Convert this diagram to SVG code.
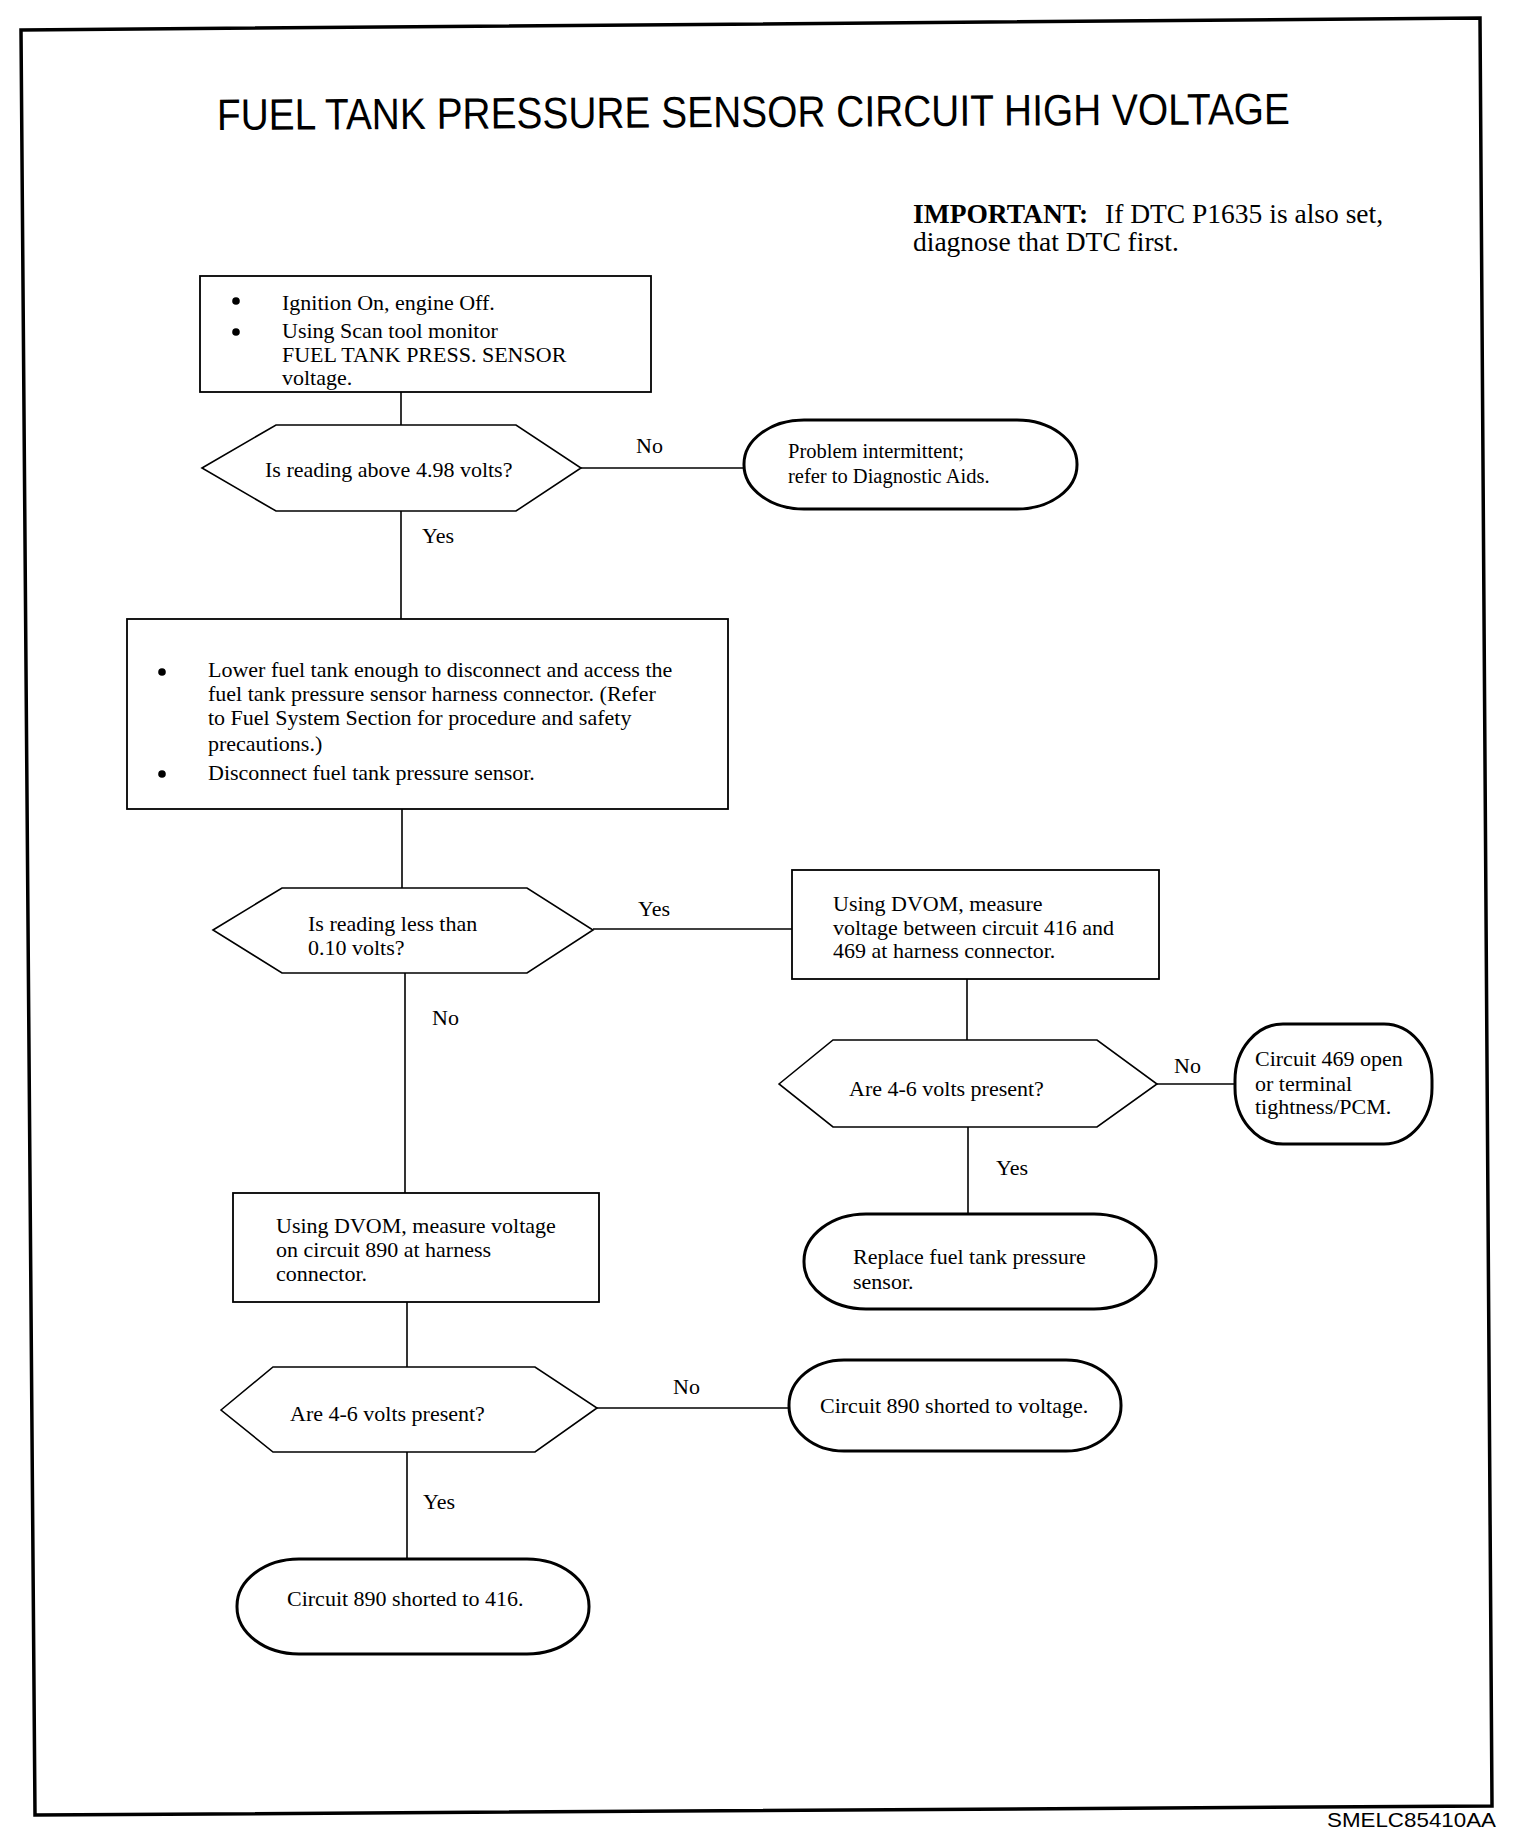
<svg xmlns="http://www.w3.org/2000/svg" width="1536" height="1840" viewBox="0 0 1536 1840">
<style>
.t{font-family:"Liberation Serif","Times New Roman",serif;font-size:22px;fill:#000}
.s{font-family:"Liberation Sans",Arial,sans-serif;fill:#000}
.box{fill:none;stroke:#000;stroke-width:1.8}
.hex{fill:none;stroke:#000;stroke-width:1.6}
.ov{fill:none;stroke:#000;stroke-width:3}
.ln{stroke:#000;stroke-width:1.6;fill:none}
.b{fill:#000}
</style>
<rect width="1536" height="1840" fill="#fff"/>
<polygon id="frame" points="21,30 1480,18 1492,1806 35,1815" fill="none" stroke="#000" stroke-width="3.5"/>
<text class="s" x="217" y="130" font-size="44" textLength="1073" lengthAdjust="spacingAndGlyphs" transform="rotate(-0.32 217 130)">FUEL TANK PRESSURE SENSOR CIRCUIT HIGH VOLTAGE</text>
<g id="important">
<text class="t" style="font-size:27.5px" x="913" y="223"><tspan font-weight="bold">IMPORTANT:</tspan><tspan x="1105">If DTC P1635 is also set,</tspan></text>
<text class="t" style="font-size:27.5px" x="913" y="251">diagnose that DTC first.</text>
</g>
<g id="connectors">
<line class="ln" x1="401" y1="392" x2="401" y2="425"/>
<line class="ln" x1="581" y1="468" x2="744" y2="468"/>
<line class="ln" x1="401" y1="511" x2="401" y2="619"/>
<line class="ln" x1="402" y1="809" x2="402" y2="888"/>
<line class="ln" x1="593" y1="929" x2="792" y2="929"/>
<line class="ln" x1="967" y1="979" x2="967" y2="1040"/>
<line class="ln" x1="1157" y1="1084" x2="1235" y2="1084"/>
<line class="ln" x1="968" y1="1127" x2="968" y2="1214"/>
<line class="ln" x1="405" y1="973" x2="405" y2="1193"/>
<line class="ln" x1="407" y1="1302" x2="407" y2="1367"/>
<line class="ln" x1="597" y1="1408" x2="789" y2="1408"/>
<line class="ln" x1="407" y1="1452" x2="407" y2="1560"/>
<text class="t" x="636" y="453">No</text>
<text class="t" x="422" y="543">Yes</text>
<text class="t" x="638" y="916">Yes</text>
<text class="t" x="432" y="1025">No</text>
<text class="t" x="1174" y="1073">No</text>
<text class="t" x="996" y="1175">Yes</text>
<text class="t" x="673" y="1394">No</text>
<text class="t" x="423" y="1509">Yes</text>
</g>
<g id="step1">
<rect class="box" x="200" y="276" width="451" height="116"/>
<circle class="b" cx="236" cy="301" r="3.8"/>
<circle class="b" cx="236" cy="332" r="3.8"/>
<text class="t" x="282" y="310">Ignition On, engine Off.</text>
<text class="t" x="282" y="338">Using Scan tool monitor</text>
<text class="t" x="282" y="362">FUEL TANK PRESS. SENSOR</text>
<text class="t" x="282" y="385">voltage.</text>
</g>
<g id="q1">
<polygon class="hex" points="202,468 276,425 516,425 581,468 516,511 276,511"/>
<text class="t" x="265" y="477">Is reading above 4.98 volts?</text>
</g>
<g id="end1">
<rect class="ov" x="744" y="420" width="333" height="89" rx="60" ry="44"/>
<text class="t" style="font-size:20.5px" x="788" y="458">Problem intermittent;</text>
<text class="t" style="font-size:20.5px" x="788" y="483">refer to Diagnostic Aids.</text>
</g>
<g id="step2">
<rect class="box" x="127" y="619" width="601" height="190"/>
<circle class="b" cx="162" cy="672" r="3.8"/>
<circle class="b" cx="162" cy="774" r="3.8"/>
<text class="t" x="208" y="677">Lower fuel tank enough to disconnect and access the</text>
<text class="t" x="208" y="701">fuel tank pressure sensor harness connector. (Refer</text>
<text class="t" x="208" y="725">to Fuel System Section for procedure and safety</text>
<text class="t" x="208" y="751">precautions.)</text>
<text class="t" x="208" y="780">Disconnect fuel tank pressure sensor.</text>
</g>
<g id="q2">
<polygon class="hex" points="213,930 282,888 527,888 593,930 527,973 282,973"/>
<text class="t" x="308" y="931">Is reading less than</text>
<text class="t" x="308" y="955">0.10 volts?</text>
</g>
<g id="step3">
<rect class="box" x="792" y="870" width="367" height="109"/>
<text class="t" x="833" y="911">Using DVOM, measure</text>
<text class="t" x="833" y="935">voltage between circuit 416 and</text>
<text class="t" x="833" y="958">469 at harness connector.</text>
</g>
<g id="q3">
<polygon class="hex" points="779,1084 833,1040 1097,1040 1157,1084 1097,1127 833,1127"/>
<text class="t" x="849" y="1096">Are 4-6 volts present?</text>
</g>
<g id="end2">
<rect class="ov" x="1235" y="1024" width="197" height="120" rx="48" ry="56"/>
<text class="t" x="1255" y="1066">Circuit 469 open</text>
<text class="t" x="1255" y="1091">or terminal</text>
<text class="t" x="1255" y="1114">tightness/PCM.</text>
</g>
<g id="end3">
<rect class="ov" x="804" y="1214" width="352" height="95" rx="62" ry="47"/>
<text class="t" x="853" y="1264">Replace fuel tank pressure</text>
<text class="t" x="853" y="1289">sensor.</text>
</g>
<g id="step4">
<rect class="box" x="233" y="1193" width="366" height="109"/>
<text class="t" x="276" y="1233">Using DVOM, measure voltage</text>
<text class="t" x="276" y="1257">on circuit 890 at harness</text>
<text class="t" x="276" y="1281">connector.</text>
</g>
<g id="q4">
<polygon class="hex" points="221,1410 273,1367 535,1367 597,1408 535,1452 273,1452"/>
<text class="t" x="290" y="1421">Are 4-6 volts present?</text>
</g>
<g id="end4">
<rect class="ov" x="789" y="1360" width="332" height="91" rx="55" ry="45"/>
<text class="t" x="820" y="1413">Circuit 890 shorted to voltage.</text>
</g>
<g id="end5">
<rect class="ov" x="237" y="1559" width="352" height="95" rx="62" ry="47"/>
<text class="t" x="287" y="1606">Circuit 890 shorted to 416.</text>
</g>
<text class="s" x="1327" y="1827" font-size="21" textLength="169" lengthAdjust="spacingAndGlyphs">SMELC85410AA</text>
</svg>
